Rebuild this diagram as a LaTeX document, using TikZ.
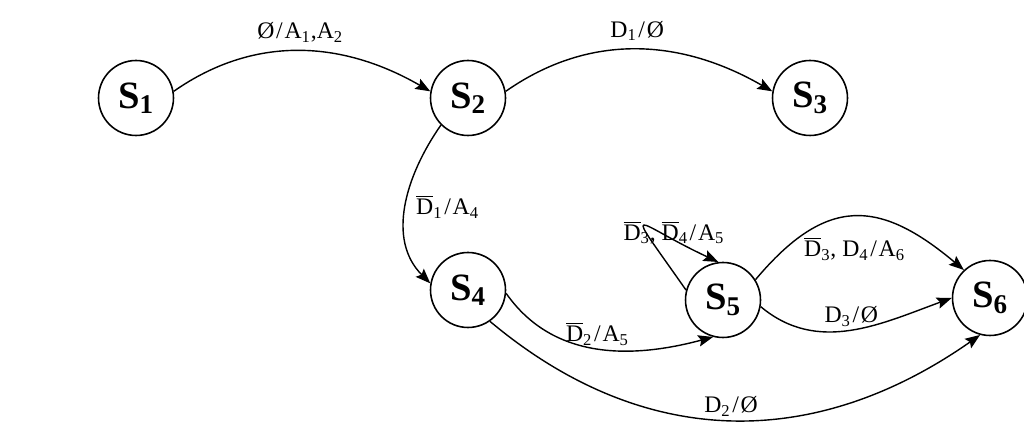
\documentclass[tikz,border=0pt]{standalone}
\usepackage{fontspec}
\setmainfont{Liberation Serif}
\usetikzlibrary{arrows.meta}

\newcommand{\nD}[1]{$\overline{\mbox{D}}$\textsubscript{#1}}
\newcommand{\sla}{\kern1pt/\kern1pt}

\begin{document}
\begin{tikzpicture}[x=0.02cm, y=0.02cm,
          state/.style={draw, circle, line width=0.9pt,
                        minimum size=1.5cm, inner sep=0pt,
                        font=\fontsize{22}{25}\selectfont\bfseries},
          arr/.style={-{Stealth[length=8.5pt, width=6.5pt, inset=1.5pt]},
                      line width=0.8pt},
          lbl/.style={font=\fontsize{13.5}{15}\selectfont, inner sep=1.5pt}
        ]
          \useasboundingbox (0,0) rectangle (1024,425);
          \node[state] (s1) at (136,327) {S\textsubscript{1}};
          \node[state] (s2) at (468,327) {S\textsubscript{2}};
          \node[state] (s3) at (810,327) {S\textsubscript{3}};
          \node[state] (s4) at (468,135) {S\textsubscript{4}};
          \node[state] (s5) at (723,125) {S\textsubscript{5}};
          \node[state] (s6) at (990,127) {S\textsubscript{6}};
          % top row
          \draw[arr] (s1.10) to[out=35, in=150]
            node[lbl, midway, above=3pt] {Ø\sla A\textsubscript{1},A\textsubscript{2}} (s2.170);
          \draw[arr] (s2.10) to[out=35, in=150]
            node[lbl, midway, above=3pt] {D\textsubscript{1}\sla Ø} (s3.170);
          % down to S4
          \draw[arr] (s2.225) to[out=235, in=135]
            node[lbl, midway, right=4pt] {\nD{1}\sla A\textsubscript{4}} (s4.170);
          % S4 outputs
          \draw[arr] (s4.-5) to[out=-55, in=195]
            node[lbl, midway, above] {\nD{2}\sla A\textsubscript{5}} (s5.255);
          \draw[arr] (s4.-55) to[out=-40, in=215, looseness=1.05]
            node[lbl, midway, above] {D\textsubscript{2}\sla Ø} (s6.255);
          % S5 loop and S5 to S6
          \draw[arr] (s5.165) .. controls +(125:115) and +(155:95) .. (s5.97)
            node[lbl, pos=0.5, anchor=west, xshift=-0.5cm, yshift=-0.14cm] {\nD{3}, \nD{4}\sla A\textsubscript{5}};
          \draw[arr] (s5.32) to[out=50, in=140, looseness=1.35]
            node[lbl, midway, below=10pt] {\nD{3}, D\textsubscript{4}\sla A\textsubscript{6}} (s6.133);
          \draw[arr] (s5.-10) to[out=-40, in=200]
            node[lbl, midway, above] {D\textsubscript{3}\sla Ø} (s6.180);
        \end{tikzpicture}
\end{document}
